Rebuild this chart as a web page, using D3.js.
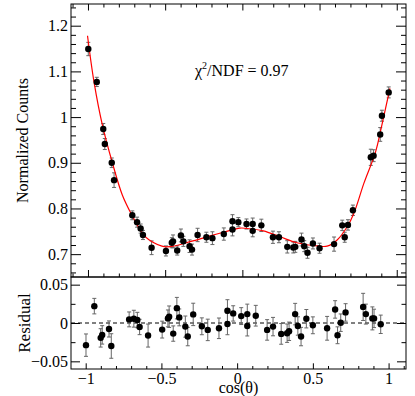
<!DOCTYPE html>
<html><head><meta charset="utf-8">
<script src="https://cdn.jsdelivr.net/npm/d3@7"></script>
<style>
body{margin:0;background:#fff}
svg{display:block}
</style>
</head><body><svg id="c" width="415" height="396"></svg>
<script>
// ---- data ----
const cosTheta = [-0.998,-0.943,-0.901,-0.891,-0.846,-0.831,-0.713,-0.682,-0.659,-0.644,
  -0.588,-0.495,-0.457,-0.449,-0.422,-0.398,-0.382,-0.342,-0.326,-0.290,
  -0.233,-0.194,-0.120,-0.064,-0.064,-0.026,0.027,0.067,0.067,0.123,
  0.198,0.237,0.291,0.330,0.343,0.383,0.401,0.422,0.457,0.500,
  0.594,0.647,0.663,0.684,0.716,0.832,0.850,0.893,0.904,0.948];
const counts = [1.149,1.077,0.974,0.941,0.900,0.862,0.785,0.770,0.756,0.742,
  0.714,0.707,0.725,0.728,0.708,0.741,0.728,0.7175,0.710,0.742,
  0.737,0.735,0.744,0.754,0.772,0.770,0.766,0.766,0.751,0.763,
  0.737,0.737,0.716,0.7146,0.716,0.732,0.7175,0.703,0.7234,0.713,
  0.722,0.763,0.737,0.764,0.796,0.912,0.9155,0.962,1.003,1.054];
const residuals = [-0.0289,0.022,-0.0194,-0.0155,-0.0078,-0.030,0.0047,0.0056,0.0039,-0.0052,
  -0.0164,-0.0086,0.006,0.0082,-0.0138,0.0194,0.0073,-0.0047,-0.0177,0.0112,
  -0.0043,-0.009,-0.0069,-0.0013,0.016,0.0125,0.009,0.0116,-0.0039,0.0095,
  -0.009,-0.0047,-0.0142,-0.0133,-0.0108,0.0116,-0.0039,-0.0177,0.0056,-0.003,
  -0.0069,0.0177,-0.016,0.0004,0.0138,0.021,0.0116,0.006,0.006,-0.0017];
const errors = [0.0146,0.0101,0.012,0.012,0.0105,0.016,0.0097,0.011,0.010,0.010,
  0.015,0.011,0.011,0.014,0.010,0.014,0.011,0.0138,0.012,0.0146,
  0.011,0.014,0.0134,0.014,0.0144,0.010,0.011,0.013,0.013,0.0135,
  0.0134,0.012,0.0135,0.012,0.012,0.014,0.012,0.012,0.012,0.011,
  0.0155,0.0114,0.011,0.0114,0.0114,0.0177,0.013,0.015,0.012,0.012];
const fitX = [-1.003,-0.961,-0.907,-0.842,-0.777,-0.715,-0.646,-0.603,-0.498,-0.32,
  -0.19,-0.016,0.027,0.136,0.244,0.353,0.461,0.549,0.614,0.679,
  0.722,0.787,0.863,0.904,0.956];
const fitY = [1.178,1.077,0.983,0.900,0.829,0.785,0.745,0.731,0.716,0.729,
  0.7416,0.757,0.7563,0.751,0.738,0.725,0.719,0.7175,0.731,0.760,
  0.789,0.855,0.924,0.983,1.063];
const topYTicks = [0.7,0.8,0.9,1,1.1,1.2];
const resYTicks = [-0.05,0,0.05];
const xTicks = [-1,-0.5,0,0.5,1];
const yTitleTop = "Normalized Counts";
const yTitleBot = "Residual";
const xTitle = "cos(θ)";
const chiLabel = ["χ","2","/NDF = 0.97"];

// ---- layout ----
const FONT = "'Liberation Serif', 'DejaVu Serif', serif";
const svg = d3.select("#c");
const L = 71, R = 406, T = 4, M = 277, B = 369;
const xTop = d3.scaleLinear().domain([-1.11, 1.06]).range([L, R]);
const xBot = d3.scaleLinear().domain([-1.097, 1.115]).range([L, R]);
const yTop = d3.scaleLinear().domain([0.65, 1.2475]).range([M, T]);
const yBot = d3.scaleLinear().domain([-0.06, 0.06]).range([B, M]);
const fmt = d3.format("~g");

const xMinor = d3.range(-11, 12).map(d => d / 10).filter(d => !xTicks.some(t => Math.abs(t - d) < 1e-9));
const yMinorTop = d3.range(33, 63).map(d => d / 50).filter(d => !topYTicks.some(t => Math.abs(t - d) < 1e-9));
const yMinorBot = [-0.025, 0.025];

function axisGroup(axis, tx, ty) {
  const g = svg.append("g").attr("transform", `translate(${tx},${ty})`).call(axis);
  g.attr("font-family", null).attr("font-size", null);
  g.select(".domain").remove();
  g.selectAll("line").attr("stroke", "#000").attr("stroke-width", 1);
  g.selectAll("text").style("font-family", FONT).style("font-size", "16px").attr("fill", "#000");
  return g;
}
function inRange(sc, arr) { const [a, b] = sc.domain(); return arr.filter(d => d >= Math.min(a,b) - 1e-9 && d <= Math.max(a,b) + 1e-9); }

// ---- top panel axes ----
axisGroup(d3.axisLeft(yTop).tickValues(topYTicks).tickFormat(fmt).tickSizeInner(-10).tickSizeOuter(0).tickPadding(3), L, 0);
axisGroup(d3.axisLeft(yTop).tickValues(inRange(yTop, yMinorTop)).tickFormat("").tickSizeInner(-5).tickSizeOuter(0), L, 0);
axisGroup(d3.axisRight(yTop).tickValues(topYTicks).tickFormat("").tickSizeInner(-10).tickSizeOuter(0), R, 0);
axisGroup(d3.axisRight(yTop).tickValues(inRange(yTop, yMinorTop)).tickFormat("").tickSizeInner(-5).tickSizeOuter(0), R, 0);
axisGroup(d3.axisTop(xTop).tickValues(xTicks).tickFormat("").tickSizeInner(-6.5).tickSizeOuter(0), 0, T);
axisGroup(d3.axisTop(xTop).tickValues(inRange(xTop, xMinor)).tickFormat("").tickSizeInner(-3.5).tickSizeOuter(0), 0, T);
axisGroup(d3.axisBottom(xTop).tickValues(xTicks).tickFormat("").tickSizeInner(-7).tickSizeOuter(0), 0, M);
axisGroup(d3.axisBottom(xTop).tickValues(inRange(xTop, xMinor)).tickFormat("").tickSizeInner(-3.5).tickSizeOuter(0), 0, M);

// ---- bottom panel axes ----
axisGroup(d3.axisLeft(yBot).tickValues(resYTicks).tickFormat(fmt).tickSizeInner(-9).tickSizeOuter(0).tickPadding(3), L, 0);
axisGroup(d3.axisLeft(yBot).tickValues(yMinorBot).tickFormat("").tickSizeInner(-4.5).tickSizeOuter(0), L, 0);
axisGroup(d3.axisRight(yBot).tickValues(resYTicks).tickFormat("").tickSizeInner(-9).tickSizeOuter(0), R, 0);
axisGroup(d3.axisRight(yBot).tickValues(yMinorBot).tickFormat("").tickSizeInner(-4.5).tickSizeOuter(0), R, 0);
const bx = axisGroup(d3.axisBottom(xBot).tickValues(xTicks).tickFormat(fmt).tickSizeInner(-5.7).tickSizeOuter(0).tickPadding(4), 0, B);
bx.selectAll("text").attr("dy", null).attr("y", 15);
axisGroup(d3.axisBottom(xBot).tickValues(inRange(xBot, xMinor)).tickFormat("").tickSizeInner(-3).tickSizeOuter(0), 0, B);

// frames
svg.append("rect").attr("x", L).attr("y", T).attr("width", R - L).attr("height", M - T)
  .attr("fill", "none").attr("stroke", "#000").attr("stroke-width", 1);
svg.append("rect").attr("x", L).attr("y", M).attr("width", R - L).attr("height", B - M)
  .attr("fill", "none").attr("stroke", "#000").attr("stroke-width", 1);

// zero line
svg.append("line").attr("x1", L).attr("x2", R).attr("y1", yBot(0)).attr("y2", yBot(0))
  .attr("stroke", "#000").attr("stroke-width", 1).attr("stroke-dasharray", "4,3");

const pts = cosTheta.map((x, i) => ({x, v: counts[i], r: residuals[i], e: errors[i]}));

function errBars(xs, ys, key) {
  const g = svg.append("g").attr("stroke", "#666").attr("stroke-width", 1);
  pts.forEach(p => {
    const cx = xs(p.x), y1 = ys(p[key] - p.e), y2 = ys(p[key] + p.e);
    g.append("line").attr("x1", cx).attr("x2", cx).attr("y1", y1).attr("y2", y2);
    g.append("line").attr("x1", cx - 2).attr("x2", cx + 2).attr("y1", y1).attr("y2", y1);
    g.append("line").attr("x1", cx - 2).attr("x2", cx + 2).attr("y1", y2).attr("y2", y2);
  });
}
errBars(xTop, yTop, "v");
errBars(xBot, yBot, "r");

// fit curve
const fitPts = fitX.map((x, i) => [x, fitY[i]]);
svg.append("path").datum(fitPts)
  .attr("d", d3.line().x(d => xTop(d[0])).y(d => yTop(d[1])).curve(d3.curveCatmullRom.alpha(0.5)))
  .attr("fill", "none").attr("stroke", "#ff0000").attr("stroke-width", 1.2);

// markers
svg.append("g").selectAll("circle").data(pts).join("circle")
  .attr("cx", d => xTop(d.x)).attr("cy", d => yTop(d.v)).attr("r", 3.2).attr("fill", "#000");
svg.append("g").selectAll("circle").data(pts).join("circle")
  .attr("cx", d => xBot(d.x)).attr("cy", d => yBot(d.r)).attr("r", 3.2).attr("fill", "#000");

// titles
function txt(sel, size) { return sel.style("font-family", FONT).style("font-size", size + "px").attr("fill", "#000"); }
txt(svg.append("text").attr("transform", `translate(28,${(T + M) / 2}) rotate(-90)`)
  .attr("text-anchor", "middle").text(yTitleTop), 16);
txt(svg.append("text").attr("transform", `translate(30,${(M + B) / 2}) rotate(-90)`)
  .attr("text-anchor", "middle").text(yTitleBot), 17);
txt(svg.append("text").attr("x", (L + R) / 2).attr("y", 393).attr("text-anchor", "middle").text(xTitle), 16);

const chi = txt(svg.append("text").attr("x", 195).attr("y", 76), 16);
chi.append("tspan").text(chiLabel[0]);
chi.append("tspan").style("font-size", "10px").attr("dy", -7).text(chiLabel[1]);
chi.append("tspan").attr("dy", 7).text(chiLabel[2]);
</script>
</body></html>
